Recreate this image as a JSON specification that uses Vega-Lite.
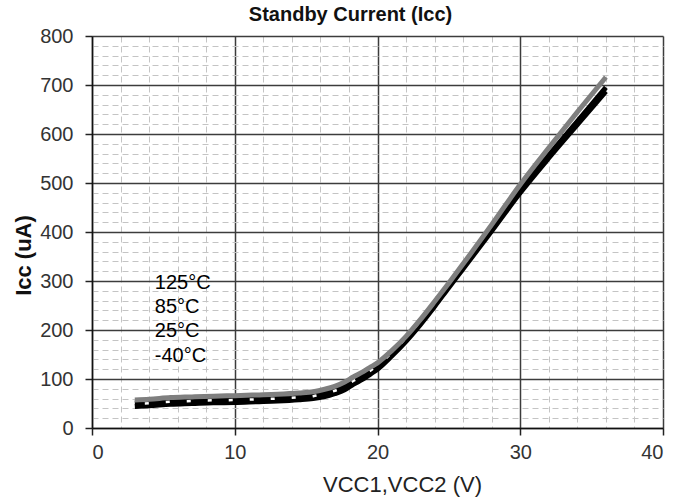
{
  "$schema": "https://vega.github.io/schema/vega-lite/v6.json",
  "width": 571,
  "height": 392,
  "autosize": {"type": "none"},
  "padding": {"left": 92, "top": 36, "right": 33, "bottom": 75},
  "background": "white",
  "title": {"text": "Standby Current (Icc)", "font": "Liberation Sans", "fontSize": 20, "fontWeight": "bold", "color": "#111", "anchor": "middle", "frame": "group", "dx": -27, "dy": 29, "offset": 10, "baseline": "bottom"},
  "config": {"view": {"stroke": null}},
  "datasets": {
    "curves": [
      {"t": "25°C", "v": 3, "i": 49}, {"t": "25°C", "v": 4, "i": 50.5}, {"t": "25°C", "v": 5.5, "i": 53.5}, {"t": "25°C", "v": 7, "i": 55}, {"t": "25°C", "v": 8.5, "i": 56.5}, {"t": "25°C", "v": 10, "i": 57}, {"t": "25°C", "v": 11.5, "i": 58.5}, {"t": "25°C", "v": 13, "i": 60}, {"t": "25°C", "v": 14.5, "i": 62.5}, {"t": "25°C", "v": 15.5, "i": 65}, {"t": "25°C", "v": 16.3, "i": 70}, {"t": "25°C", "v": 17, "i": 76}, {"t": "25°C", "v": 17.7, "i": 85}, {"t": "25°C", "v": 18.3, "i": 96}, {"t": "25°C", "v": 19, "i": 107}, {"t": "25°C", "v": 19.5, "i": 117}, {"t": "25°C", "v": 20, "i": 127}, {"t": "25°C", "v": 21, "i": 154}, {"t": "25°C", "v": 22, "i": 184}, {"t": "25°C", "v": 23, "i": 219}, {"t": "25°C", "v": 24, "i": 257}, {"t": "25°C", "v": 25, "i": 296}, {"t": "25°C", "v": 26, "i": 335}, {"t": "25°C", "v": 28, "i": 415}, {"t": "25°C", "v": 30, "i": 497}, {"t": "25°C", "v": 32, "i": 572}, {"t": "25°C", "v": 34, "i": 645}, {"t": "25°C", "v": 36, "i": 716},
      {"t": "125°C", "v": 3, "i": 57}, {"t": "125°C", "v": 4, "i": 58.5}, {"t": "125°C", "v": 5.5, "i": 62}, {"t": "125°C", "v": 7, "i": 63.5}, {"t": "125°C", "v": 8.5, "i": 65}, {"t": "125°C", "v": 10, "i": 66}, {"t": "125°C", "v": 11.5, "i": 67.5}, {"t": "125°C", "v": 13, "i": 69}, {"t": "125°C", "v": 14.5, "i": 71.5}, {"t": "125°C", "v": 15.5, "i": 74}, {"t": "125°C", "v": 16.3, "i": 79}, {"t": "125°C", "v": 17, "i": 85}, {"t": "125°C", "v": 17.7, "i": 94}, {"t": "125°C", "v": 18.3, "i": 104}, {"t": "125°C", "v": 19, "i": 115}, {"t": "125°C", "v": 19.5, "i": 124}, {"t": "125°C", "v": 20, "i": 133}, {"t": "125°C", "v": 21, "i": 158}, {"t": "125°C", "v": 22, "i": 187}, {"t": "125°C", "v": 23, "i": 221}, {"t": "125°C", "v": 24, "i": 258}, {"t": "125°C", "v": 25, "i": 296}, {"t": "125°C", "v": 26, "i": 335}, {"t": "125°C", "v": 28, "i": 415}, {"t": "125°C", "v": 30, "i": 497}, {"t": "125°C", "v": 32, "i": 572}, {"t": "125°C", "v": 34, "i": 645}, {"t": "125°C", "v": 36, "i": 716},
      {"t": "85°C", "v": 3, "i": 51}, {"t": "85°C", "v": 4, "i": 52.5}, {"t": "85°C", "v": 5.5, "i": 55.5}, {"t": "85°C", "v": 7, "i": 57}, {"t": "85°C", "v": 8.5, "i": 58.5}, {"t": "85°C", "v": 10, "i": 59}, {"t": "85°C", "v": 11.5, "i": 60.5}, {"t": "85°C", "v": 13, "i": 62}, {"t": "85°C", "v": 14.5, "i": 64.5}, {"t": "85°C", "v": 15.5, "i": 67}, {"t": "85°C", "v": 16.3, "i": 72}, {"t": "85°C", "v": 17, "i": 78}, {"t": "85°C", "v": 17.7, "i": 86}, {"t": "85°C", "v": 18.3, "i": 96}, {"t": "85°C", "v": 19, "i": 107}, {"t": "85°C", "v": 19.5, "i": 116}, {"t": "85°C", "v": 20, "i": 126}, {"t": "85°C", "v": 21, "i": 152}, {"t": "85°C", "v": 22, "i": 181}, {"t": "85°C", "v": 23, "i": 215}, {"t": "85°C", "v": 24, "i": 252}, {"t": "85°C", "v": 25, "i": 291}, {"t": "85°C", "v": 26, "i": 329}, {"t": "85°C", "v": 28, "i": 407}, {"t": "85°C", "v": 30, "i": 486}, {"t": "85°C", "v": 32, "i": 557}, {"t": "85°C", "v": 34, "i": 626}, {"t": "85°C", "v": 36, "i": 695},
      {"t": "-40°C", "v": 3, "i": 44}, {"t": "-40°C", "v": 4, "i": 45.5}, {"t": "-40°C", "v": 5.5, "i": 48.5}, {"t": "-40°C", "v": 7, "i": 50}, {"t": "-40°C", "v": 8.5, "i": 51.5}, {"t": "-40°C", "v": 10, "i": 52}, {"t": "-40°C", "v": 11.5, "i": 53.5}, {"t": "-40°C", "v": 13, "i": 55}, {"t": "-40°C", "v": 14.5, "i": 57.5}, {"t": "-40°C", "v": 15.5, "i": 60}, {"t": "-40°C", "v": 16.3, "i": 64}, {"t": "-40°C", "v": 17, "i": 70}, {"t": "-40°C", "v": 17.7, "i": 78}, {"t": "-40°C", "v": 18.3, "i": 89}, {"t": "-40°C", "v": 19, "i": 100}, {"t": "-40°C", "v": 19.5, "i": 110}, {"t": "-40°C", "v": 20, "i": 120}, {"t": "-40°C", "v": 21, "i": 147}, {"t": "-40°C", "v": 22, "i": 177}, {"t": "-40°C", "v": 23, "i": 211}, {"t": "-40°C", "v": 24, "i": 248}, {"t": "-40°C", "v": 25, "i": 287}, {"t": "-40°C", "v": 26, "i": 325}, {"t": "-40°C", "v": 28, "i": 402}, {"t": "-40°C", "v": 30, "i": 480}, {"t": "-40°C", "v": 32, "i": 551}, {"t": "-40°C", "v": 34, "i": 619}, {"t": "-40°C", "v": 36, "i": 687}
    ],
    "labels": [
      {"name": "125°C", "v": 4.4, "i": 296},
      {"name": "85°C", "v": 4.4, "i": 246},
      {"name": "25°C", "v": 4.4, "i": 197},
      {"name": "-40°C", "v": 4.4, "i": 146}
    ]
  },
  "encoding": {
    "x": {
      "field": "v", "type": "quantitative",
      "scale": {"domain": [0, 40], "nice": false, "zero": false},
      "axis": {
        "title": "VCC1,VCC2 (V)",
        "titleFont": "Liberation Sans", "titleFontSize": 22, "titleFontWeight": "normal", "titleColor": "#222",
        "titleX": 310, "titleY": 56, "titleBaseline": "middle",
        "values": [0, 2, 4, 6, 8, 10, 12, 14, 16, 18, 20, 22, 24, 26, 28, 30, 32, 34, 36, 38, 40],
        "labelExpr": "datum.value % 10 === 0 ? datum.label : ''",
        "labelOverlap": false,
        "labelFont": "Liberation Sans", "labelFontSize": 20, "labelColor": "#333", "labelPadding": 7,
        "grid": true,
        "gridColor": {"condition": {"test": "datum.value % 10 === 0", "value": "#3c3c3c"}, "value": "#c4c4c4"},
        "gridDash": {"condition": {"test": "datum.value % 10 === 0", "value": []}, "value": [6, 4]},
        "gridWidth": {"condition": {"test": "datum.value % 10 === 0", "value": 1.5}, "value": 1},
        "tickSize": {"condition": {"test": "datum.value % 10 === 0", "value": 7}, "value": 0},
        "tickColor": "#222", "tickWidth": 1.5,
        "domainColor": "#111", "domainWidth": 1.5
      }
    },
    "y": {
      "field": "i", "type": "quantitative",
      "scale": {"domain": [0, 800], "nice": false},
      "axis": {
        "title": "Icc (uA)",
        "titleFont": "Liberation Sans", "titleFontSize": 22, "titleFontWeight": "bold", "titleColor": "#111",
        "titleX": -69, "titleY": 219, "titleBaseline": "middle", "titleAlign": "center",
        "values": [0, 20, 40, 60, 80, 100, 120, 140, 160, 180, 200, 220, 240, 260, 280, 300, 320, 340, 360, 380, 400, 420, 440, 460, 480, 500, 520, 540, 560, 580, 600, 620, 640, 660, 680, 700, 720, 740, 760, 780, 800],
        "labelExpr": "datum.value % 100 === 0 ? datum.label : ''",
        "labelOverlap": false,
        "labelFont": "Liberation Sans", "labelFontSize": 20, "labelColor": "#333", "labelPadding": 12,
        "grid": true,
        "gridColor": {"condition": {"test": "datum.value % 100 === 0", "value": "#3c3c3c"}, "value": "#c4c4c4"},
        "gridDash": {"condition": {"test": "datum.value % 100 === 0", "value": []}, "value": [6, 4]},
        "gridWidth": {"condition": {"test": "datum.value % 100 === 0", "value": 1.5}, "value": 1},
        "tickSize": {"condition": {"test": "datum.value % 100 === 0", "value": 7}, "value": 0},
        "tickColor": "#222", "tickWidth": 1.5,
        "domainColor": "#111", "domainWidth": 1.5
      }
    }
  },
  "layer": [
    {
      "data": {"name": "curves"},
      "transform": [{"filter": "datum.t === '85°C'"}],
      "mark": {"type": "line", "color": "#000", "strokeWidth": 5, "interpolate": "monotone"}
    },
    {
      "data": {"name": "curves"},
      "transform": [{"filter": "datum.t === '-40°C'"}],
      "mark": {"type": "line", "color": "#000", "strokeWidth": 5, "interpolate": "monotone"}
    },
    {
      "data": {"name": "curves"},
      "transform": [{"filter": "datum.t === '25°C'"}],
      "mark": {"type": "line", "color": "#ffffff", "strokeWidth": 2.5, "strokeDash": [4, 17], "strokeDashOffset": -10, "interpolate": "monotone"}
    },
    {
      "data": {"name": "curves"},
      "transform": [{"filter": "datum.t === '125°C'"}],
      "mark": {"type": "line", "color": "#7f7f7f", "strokeWidth": 5, "interpolate": "monotone"}
    },
    {
      "data": {"name": "labels"},
      "mark": {"type": "text", "align": "left", "baseline": "middle", "font": "Liberation Sans", "fontSize": 20, "color": "#000"},
      "encoding": {"text": {"field": "name"}}
    }
  ]
}
